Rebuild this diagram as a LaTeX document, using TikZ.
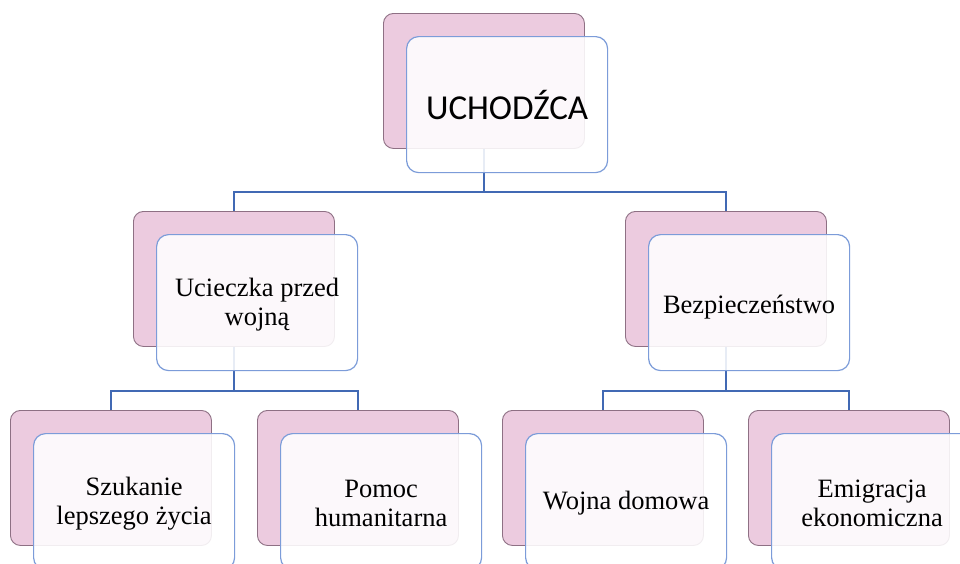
\documentclass[tikz,border=0pt]{standalone}
\usepackage{fontspec}
\setmainfont{Liberation Serif}
\newfontfamily\calib{Carlito}
\definecolor{pinkfill}{HTML}{ECCBDF}
\definecolor{pinkline}{HTML}{8E7084}
\definecolor{frontline}{HTML}{7C9CD9}
\definecolor{conn}{HTML}{4169B4}
\tikzset{
  backbox/.style={draw=pinkline, line width=0.9pt, fill=pinkfill, rounded corners=10pt,
    minimum width=201pt, minimum height=135pt, anchor=north west, inner sep=0pt},
  frontbox/.style={draw=frontline, line width=1.2pt, fill=white, fill opacity=0.88, text opacity=1,
    rounded corners=12pt, minimum width=201pt, minimum height=136pt, anchor=north west,
    inner sep=0pt, align=center},
  frontlabel/.style={align=center, font=\fontsize{26.5pt}{29pt}\selectfont, text=black},
  connector/.style={draw=conn, line width=1.6pt}
}
\begin{document}
\begin{tikzpicture}[x=1pt,y=-1pt]
\clip (0,0) rectangle (960,563);
\fill[white] (0,0) rectangle (960,563);
% back boxes
\node[backbox] (bA) at (383,13) {};
\node[backbox] (bB) at (133,211) {};
\node[backbox] (bC) at (625,211) {};
\node[backbox] (bD) at (10,410) {};
\node[backbox] (bE) at (257,410) {};
\node[backbox] (bF) at (502,410) {};
\node[backbox] (bG) at (748,410) {};
% connectors
\draw[connector] (bA.south) -- ++(0,43) -| (bB.north);
\draw[connector] (bA.south) -- ++(0,43) -| (bC.north);
\draw[connector] (bB.south) -- ++(0,44) -| (bD.north);
\draw[connector] (bB.south) -- ++(0,44) -| (bE.north);
\draw[connector] (bC.south) -- ++(0,44) -| (bF.north);
\draw[connector] (bC.south) -- ++(0,44) -| (bG.north);
% front boxes
\node[frontbox] (fA) at (406,36) {};
\node[frontbox] (fB) at (156,234) {};
\node[frontbox] (fC) at (648,234) {};
\node[frontbox] (fD) at (33,433) {};
\node[frontbox] (fE) at (280,433) {};
\node[frontbox] (fF) at (525,433) {};
\node[frontbox] (fG) at (771,433) {};
% labels
\node[font=\calib\fontsize{35pt}{40pt}\selectfont] (tA) at (fA.center) {UCHODŹCA};
\node[frontlabel] (tB) at ([yshift=-2pt]fB.center) {Ucieczka przed\\wojną};
\node[frontlabel] (tC) at ([yshift=-4pt]fC.center) {Bezpieczeństwo};
\node[frontlabel] (tD) at ([yshift=-2pt]fD.center) {Szukanie\\lepszego życia};
\node[frontlabel] (tE) at ([yshift=-2pt]fE.center) {Pomoc\\humanitarna};
\node[frontlabel] (tF) at ([yshift=-2pt]fF.center) {Wojna domowa};
\node[frontlabel] (tG) at ([yshift=-2pt]fG.center) {Emigracja\\ekonomiczna};
\end{tikzpicture}
\end{document}
